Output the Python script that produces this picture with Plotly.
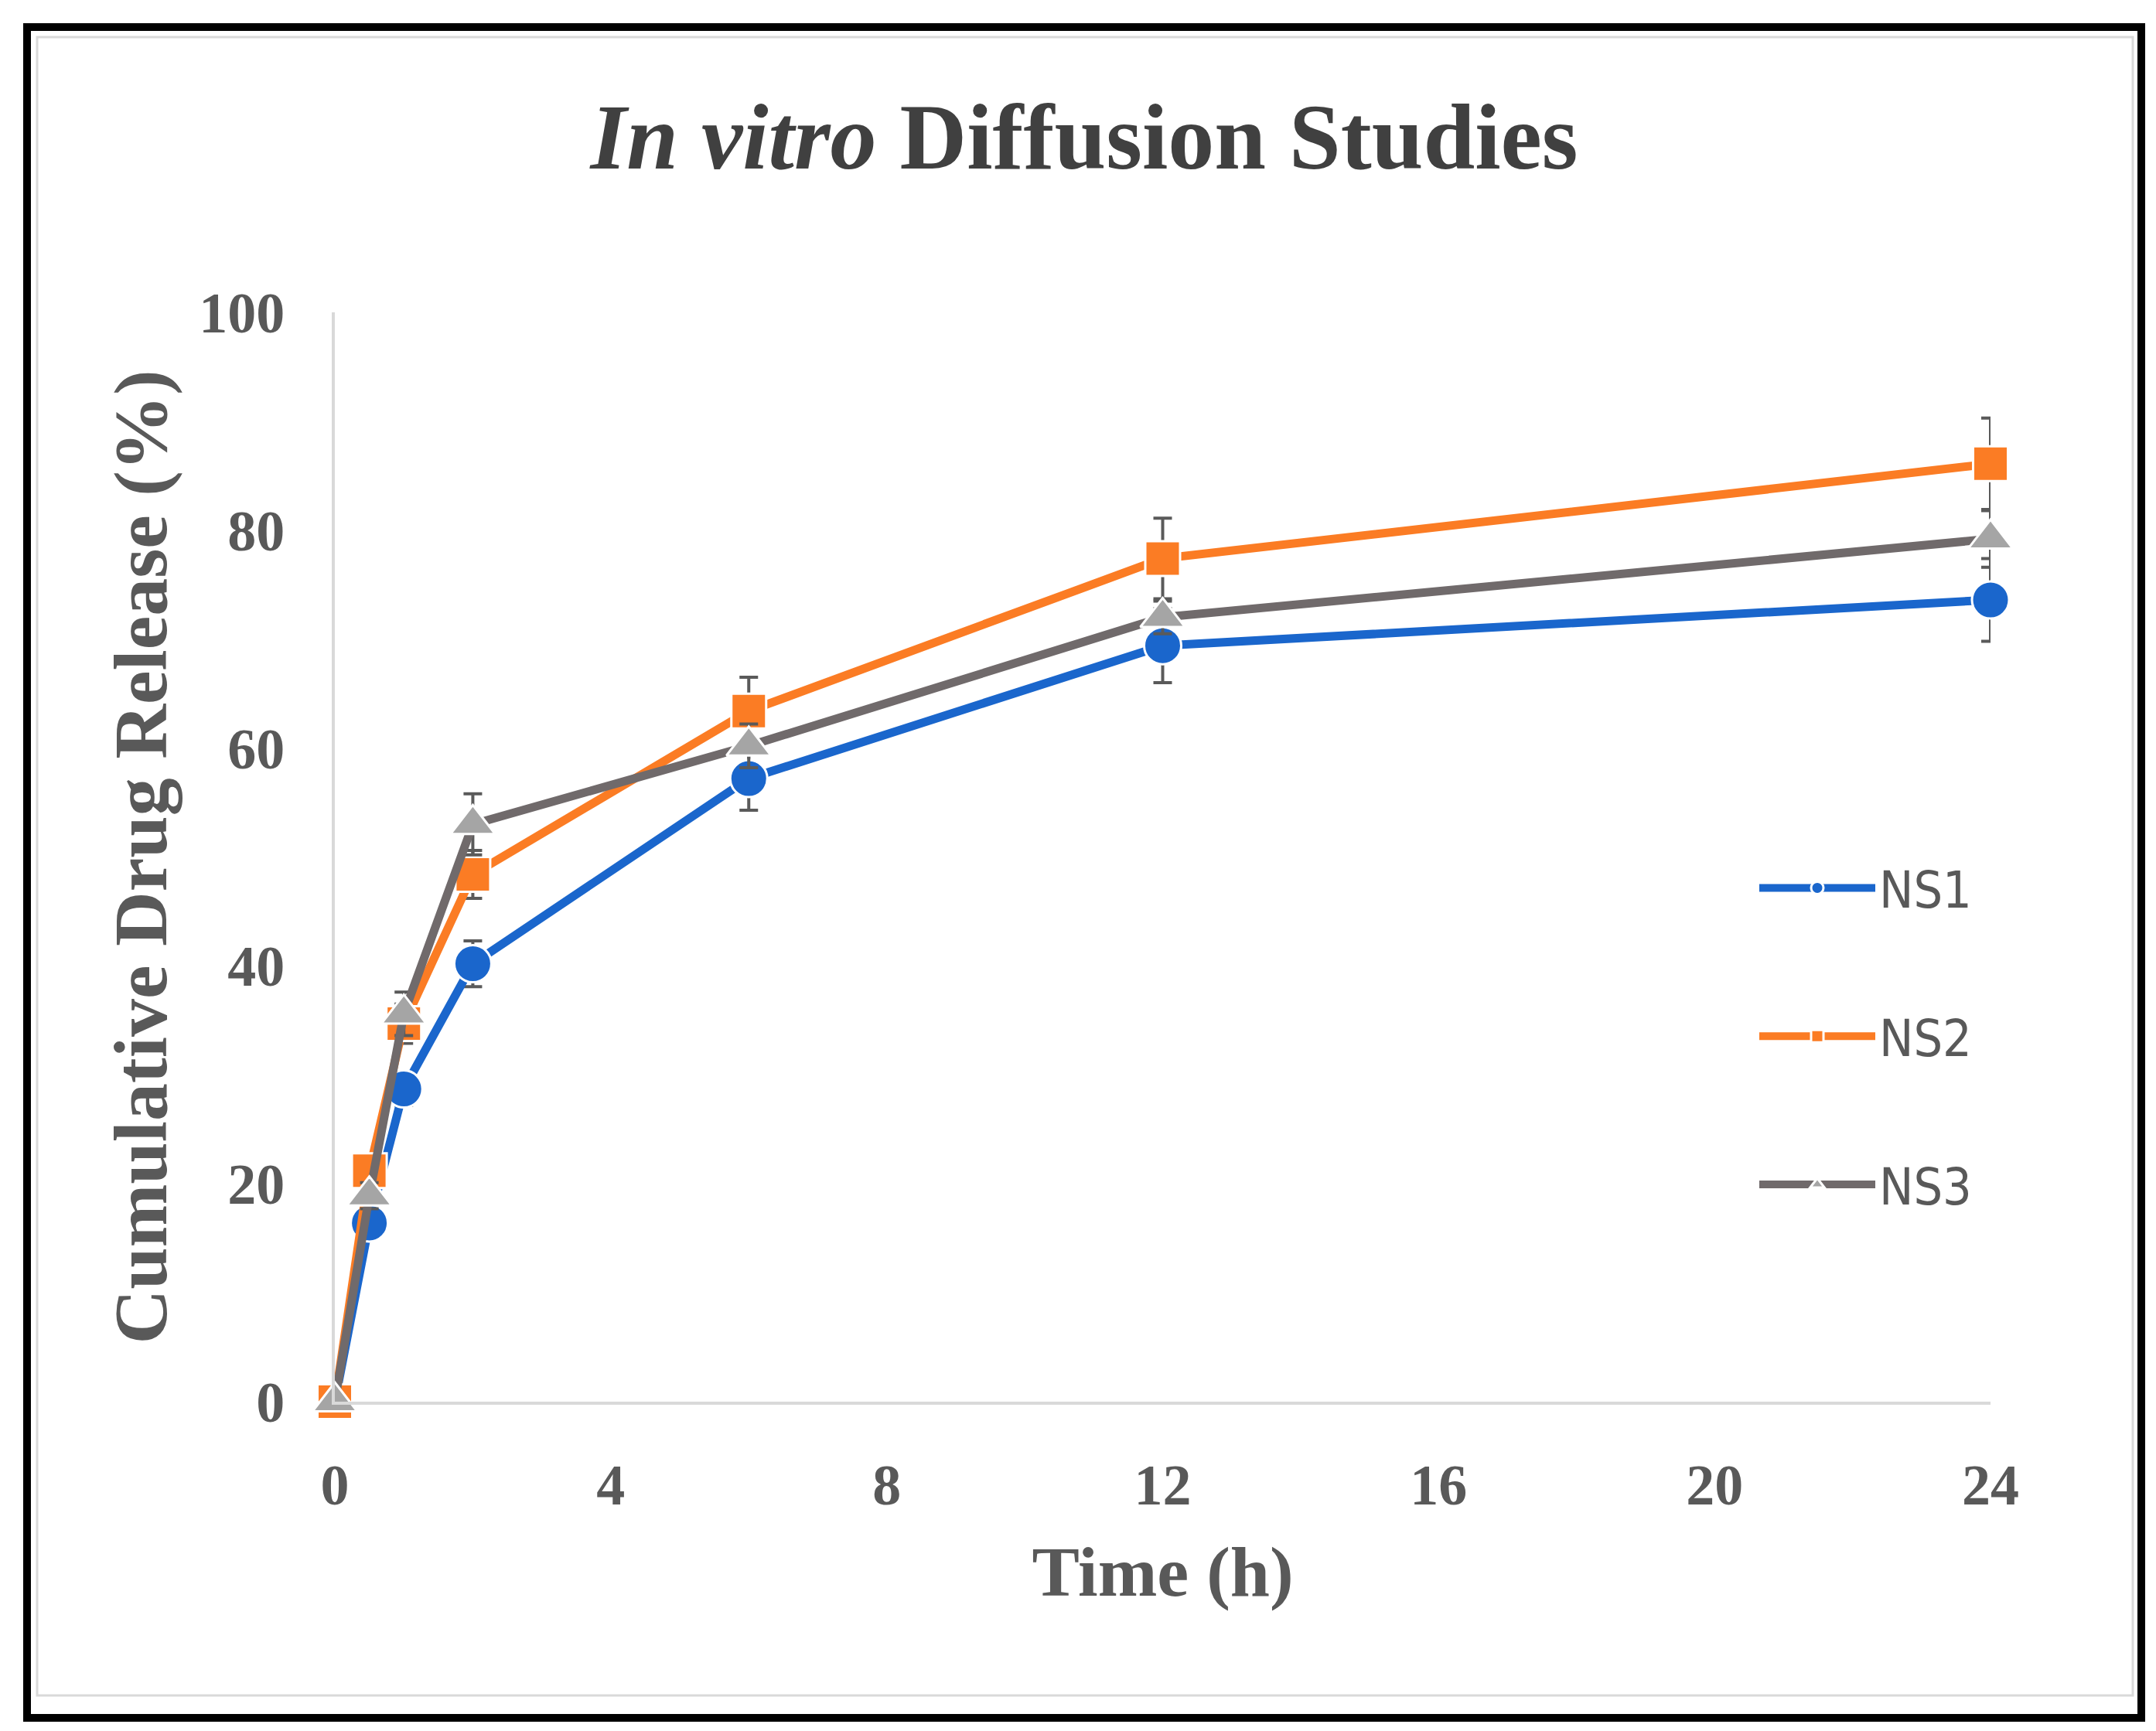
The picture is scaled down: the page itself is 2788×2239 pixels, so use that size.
import plotly.graph_objects as go

time_h = [0, 0.5, 1, 2, 6, 12, 24]
ns1 = [0, 16.4, 28.7, 40.2, 57.2, 69.4, 73.6]
ns2 = [0, 21.2, 34.7, 48.4, 63.4, 77.4, 86.1]
ns3 = [0, 18.9, 35.6, 53.0, 60.2, 72.0, 79.2]
ns1_err = [0, 1.2, 1.5, 2.1, 2.9, 3.4, 3.8]
ns2_err = [0, 1.5, 1.8, 2.2, 3.1, 3.7, 4.2]
ns3_err = [0, 1.2, 2.0, 2.8, 2.0, 1.5, 2.6]
series_names = ["NS1", "NS2", "NS3"]
x_ticks = [0, 4, 8, 12, 16, 20, 24]
y_ticks = [0, 20, 40, 60, 80, 100]

W, H = 2788, 2239
L, R, T, B = 425, 222, 396, 434
PW, PH = W - L - R, H - T - B

def px(x):
    return (x - L) / PW

def py(y):
    return (H - B - y) / PH

serif = "Liberation Serif, Times New Roman, serif"
grey_txt = "#595959"
err_color = "#5a5a5a"

styles = [
    dict(line="#1a66cc", marker="#1a66cc", symbol="circle", size=48),
    dict(line="#fb7c24", marker="#fb7c24", symbol="square", size=45),
    dict(line="#706a6b", marker="#a5a5a5", symbol="triangle-up", size=50),
]

fig = go.Figure()
for name, vals, errs, st in zip(series_names, [ns1, ns2, ns3], [ns1_err, ns2_err, ns3_err], styles):
    fig.add_trace(go.Scatter(
        x=time_h, y=vals, name=name, mode="lines+markers",
        legendgroup=name,
        line=dict(color=st["line"], width=11),
        marker=dict(color=st["marker"], symbol=st["symbol"], size=st["size"],
                    line=dict(color="white", width=3)),
        error_y=dict(type="data", array=errs, visible=True, color=err_color,
                     thickness=4, width=12),
        cliponaxis=False,
    ))

shapes = [
    dict(type="rect", xref="paper", yref="paper",
         x0=px(40), x1=px(2750), y0=py(2185), y1=py(40),
         line=dict(color="#d9d9d9", width=3), layer="below"),
    dict(type="rect", xref="paper", yref="paper",
         x0=px(27), x1=px(2761), y0=py(2214), y1=py(27),
         line=dict(color="black", width=10), layer="below"),
]

fig.update_layout(
    width=W, height=H,
    margin=dict(l=L, r=R, t=T, b=B),
    paper_bgcolor="white", plot_bgcolor="white",
    title=dict(text="<i>In vitro</i> Diffusion Studies", x=0.5, xref="container",
               xanchor="center", y=1 - 168 / H, yref="container", yanchor="middle",
               font=dict(family=serif, size=120, color="#404040", weight="bold")),
    xaxis=dict(range=[0, 24], tickvals=x_ticks, showgrid=False, zeroline=False,
               showline=True, linecolor="#d9d9d9", linewidth=4,
               ticks="", ticklabelstandoff=40,
               tickfont=dict(family=serif, size=74, color=grey_txt, weight="bold"),
               title=dict(text="Time (h)", standoff=40,
                          font=dict(family=serif, size=92, color=grey_txt, weight="bold"))),
    yaxis=dict(range=[0, 100], tickvals=y_ticks, showgrid=False, zeroline=False,
               showline=True, linecolor="#d9d9d9", linewidth=4,
               ticks="", ticklabelstandoff=46,
               tickfont=dict(family=serif, size=74, color=grey_txt, weight="bold"),
               title=dict(text="Cumulative Drug Release (%)", standoff=10,
                          font=dict(family=serif, size=98, color=grey_txt, weight="bold"))),
    legend=dict(x=px(2262), y=py(1091), xanchor="left", yanchor="top",
                bgcolor="rgba(0,0,0,0)", tracegroupgap=103, itemwidth=150,
                font=dict(family="Liberation Sans Narrow, DejaVu Sans Condensed, Liberation Sans, sans-serif",
                          size=66, color=grey_txt)),
    shapes=shapes,
    showlegend=True,
)

fig.write_html("out.html")
